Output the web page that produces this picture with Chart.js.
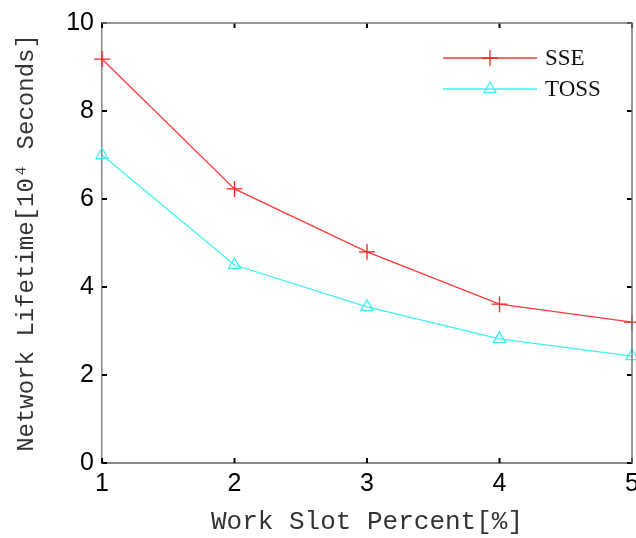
<!DOCTYPE html>
<html>
<head>
<meta charset="utf-8">
<script src="https://cdn.jsdelivr.net/npm/chart.js@4.4.0/dist/chart.umd.min.js"></script>
<style>
  html, body { margin: 0; padding: 0; background: #fff; }
  #wrap { width: 636px; height: 538px; }
</style>
</head>
<body>
<div id="wrap"><canvas id="lifetimeChart" width="636" height="538"></canvas></div>
<script>
// values
const workSlot = [1, 2, 3, 4, 5];
const sseLifetime = [9.18, 6.23, 4.80, 3.61, 3.20];
const tossLifetime = [7.00, 4.50, 3.55, 2.82, 2.43];
const yTicks = [0, 2, 4, 6, 8, 10];

const toPoints = (ys) => workSlot.map((x, i) => ({ x: x, y: ys[i] }));

// inward ticks on all four sides, like the matlab box
const innerTicks = {
    id: 'innerTicks',
    afterDatasetsDraw(chart) {
        const { ctx, chartArea, scales } = chart;
        const len = 5;
        ctx.save();
        ctx.strokeStyle = '#000';
        ctx.lineWidth = 2;
        ctx.beginPath();
        scales.y.ticks.forEach(t => {
            const py = scales.y.getPixelForValue(t.value);
            ctx.moveTo(chartArea.left, py);
            ctx.lineTo(chartArea.left + len, py);
            ctx.moveTo(chartArea.right, py);
            ctx.lineTo(chartArea.right - len, py);
        });
        scales.x.ticks.forEach(t => {
            const px = scales.x.getPixelForValue(t.value);
            ctx.moveTo(px, chartArea.bottom);
            ctx.lineTo(px, chartArea.bottom - len);
            ctx.moveTo(px, chartArea.top);
            ctx.lineTo(px, chartArea.top + len);
        });
        ctx.stroke();
        // top and right border
        ctx.strokeStyle = '#777';
        ctx.lineWidth = 1.5;
        ctx.beginPath();
        ctx.moveTo(chartArea.left, chartArea.top);
        ctx.lineTo(chartArea.right, chartArea.top);
        ctx.lineTo(chartArea.right, chartArea.bottom);
        ctx.stroke();
        ctx.restore();
    }
};

// legend box in the upper right of the plot area
const boxLegend = {
    id: 'boxLegend',
    afterDraw(chart) {
        const { ctx, chartArea } = chart;
        const x0 = chartArea.right - 189;
        const x1 = chartArea.right - 95;
        let y = chartArea.top + 35;
        ctx.save();
        chart.data.datasets.forEach((ds, i) => {
            ctx.strokeStyle = ds.borderColor;
            ctx.lineWidth = 1.3;
            ctx.beginPath();
            ctx.moveTo(x0, y);
            ctx.lineTo(x1, y);
            ctx.stroke();
            ctx.fillStyle = 'rgba(0,0,0,0)';
            ctx.strokeStyle = ds.pointBorderColor;
            Chart.helpers.drawPoint(ctx, {
                pointStyle: ds.pointStyle,
                radius: ds.pointRadius,
                borderWidth: 1.3
            }, (x0 + x1) / 2, y);
            ctx.fillStyle = '#111';
            ctx.font = '23px "Liberation Serif"';
            ctx.textBaseline = 'middle';
            ctx.fillText(ds.label, x1 + 8, y + 1);
            y += 31;
        });
        ctx.restore();
    }
};

const ctx = document.getElementById('lifetimeChart').getContext('2d');
new Chart(ctx, {
    type: 'line',
    data: {
        datasets: [
            {
                label: 'SSE',
                data: toPoints(sseLifetime),
                borderColor: '#ff3b3b',
                borderWidth: 1.3,
                pointStyle: 'cross',
                pointRadius: 8,
                pointBorderColor: '#ff2020',
                pointBorderWidth: 1.3,
                backgroundColor: 'rgba(0,0,0,0)',
                tension: 0,
                clip: false
            },
            {
                label: 'TOSS',
                data: toPoints(tossLifetime),
                borderColor: '#3ff0f0',
                borderWidth: 1.3,
                pointStyle: 'triangle',
                pointRadius: 7,
                pointBorderColor: '#3ff0f0',
                pointBorderWidth: 1.3,
                pointBackgroundColor: 'rgba(0,0,0,0)',
                backgroundColor: 'rgba(0,0,0,0)',
                tension: 0,
                clip: false
            }
        ]
    },
    options: {
        responsive: false,
        animation: false,
        layout: { autoPadding: false, padding: { top: 23, right: 4, left: 0, bottom: 0 } },
        plugins: {
            legend: { display: false },
            tooltip: { enabled: false }
        },
        scales: {
            x: {
                type: 'linear',
                min: 1,
                max: 5,
                afterFit: (scale) => {
                    scale.height = 75;
                    scale.paddingLeft = 0;
                    scale.paddingRight = 0;
                },
                grid: { display: false, drawTicks: true, tickLength: 6 },
                border: { color: '#888', width: 2 },
                ticks: {
                    stepSize: 1,
                    padding: 0,
                    color: '#000',
                    font: { family: '"Liberation Sans"', size: 25 }
                },
                title: {
                    display: true,
                    text: 'Work Slot Percent[%]',
                    color: '#333',
                    font: { family: '"Liberation Mono"', size: 26 },
                    padding: { top: 0, bottom: 0 }
                }
            },
            y: {
                min: 0,
                max: 10,
                afterFit: (scale) => {
                    scale.width = 102;
                    scale.paddingTop = 0;
                    scale.paddingBottom = 0;
                },
                afterBuildTicks: (scale) => {
                    scale.ticks = yTicks.map(v => ({ value: v }));
                },
                grid: { display: false, drawTicks: true, tickLength: 8 },
                border: { color: '#888', width: 1.5 },
                ticks: {
                    padding: 0,
                    color: '#000',
                    font: { family: '"Liberation Sans"', size: 25 }
                },
                title: {
                    display: true,
                    text: 'Network Lifetime[10\u2074 Seconds]',
                    color: '#333',
                    font: { family: '"Liberation Mono"', size: 24 },
                    padding: { top: 12, bottom: 0 }
                }
            }
        }
    },
    plugins: [innerTicks, boxLegend]
});
</script>
</body>
</html>
